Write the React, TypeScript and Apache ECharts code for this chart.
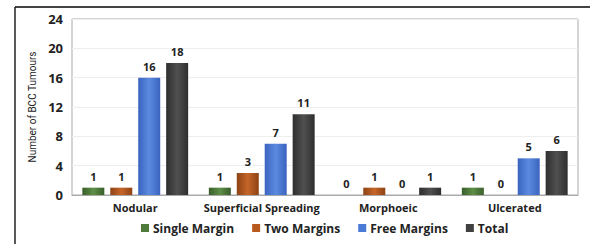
import React, { useEffect, useRef } from "react";
import * as echarts from "echarts";

const categories = ["Nodular", "Superficial Spreading", "Morphoeic", "Ulcerated"];
const seriesNames = ["Single Margin", "Two Margins", "Free Margins", "Total"];
const singleMargin = [1, 1, 0, 1];
const twoMargins = [1, 3, 1, 0];
const freeMargins = [16, 7, 0, 5];
const total = [18, 11, 1, 6];
const yTicks = { min: 0, max: 24, interval: 4 };

const palettes = [
  ["#3a5e2a", "#5e8f48", "#3a5e2a"],
  ["#8e4214", "#c5662a", "#8e4214"],
  ["#3a64bf", "#5b8ae0", "#3a64bf"],
  ["#2e2e2e", "#505050", "#2e2e2e"],
];
const legendColors = ["#4f7c3a", "#b85a1e", "#4a7bd6", "#404040"];

function grad(c: string[]) {
  return new echarts.graphic.LinearGradient(0, 0, 1, 0, [
    { offset: 0, color: c[0] },
    { offset: 0.5, color: c[1] },
    { offset: 1, color: c[2] },
  ]);
}

export default function App() {
  const ref = useRef<HTMLDivElement>(null);
  useEffect(() => {
    if (!ref.current) return;
    const chart = echarts.init(ref.current, null, { renderer: "svg" });
    const font = "'Open Sans', 'DejaVu Sans', sans-serif";
    const data = [singleMargin, twoMargins, freeMargins, total];
    chart.setOption({
      animation: false,
      textStyle: { fontFamily: font },
      graphic: [
        { type: "line", shape: { x1: 15, y1: 7, x2: 590, y2: 7 }, style: { stroke: "#444", lineWidth: 2 } },
        { type: "line", shape: { x1: 15, y1: 7, x2: 15, y2: 244 }, style: { stroke: "#222", lineWidth: 1.5 } },
      ],
      grid: { left: 72, top: 19, right: 12, bottom: 49, show: true, borderColor: "#aaa", borderWidth: 1 },
      legend: {
        bottom: 5,
        left: 136,
        itemWidth: 8,
        itemHeight: 8,
        itemGap: 18,
        icon: "rect",
        data: seriesNames.map((n, i) => ({ name: n, itemStyle: { color: legendColors[i] } })),
        textStyle: { fontFamily: font, fontWeight: "bold", fontSize: 12, color: "#222", padding: [0, 0, 0, -1] },
      },
      xAxis: {
        type: "category",
        data: categories,
        axisTick: { show: false },
        axisLine: { lineStyle: { color: "#aaa" } },
        axisLabel: { interval: 0, fontFamily: font, fontWeight: "bold", fontSize: 11, color: "#222", margin: 7 },
      },
      yAxis: {
        type: "value",
        min: yTicks.min,
        max: yTicks.max,
        interval: yTicks.interval,
        name: "Number of BCC Tumours",
        nameLocation: "middle",
        nameGap: 34,
        nameTextStyle: { fontFamily: "'Roboto', sans-serif", fontSize: 10, color: "#222" },
        axisLabel: { fontFamily: font, fontWeight: "bold", fontSize: 13, color: "#222", margin: 9 },
        splitLine: { lineStyle: { color: "#eee" } },
      },
      series: seriesNames.map((name, i) => ({
        name,
        type: "bar",
        data: data[i],
        barWidth: 22,
        barGap: "27%",
        itemStyle: { color: grad(palettes[i]) },
        label: {
          show: true,
          position: "top",
          distance: 6,
          fontFamily: font,
          fontWeight: "bold",
          fontSize: 11,
          color: "#222",
        },
      })),
    });
    return () => chart.dispose();
  }, []);
  return <div ref={ref} style={{ width: 590, height: 244, position: "absolute", left: 0, top: 0, background: "#fff" }} />;
}
